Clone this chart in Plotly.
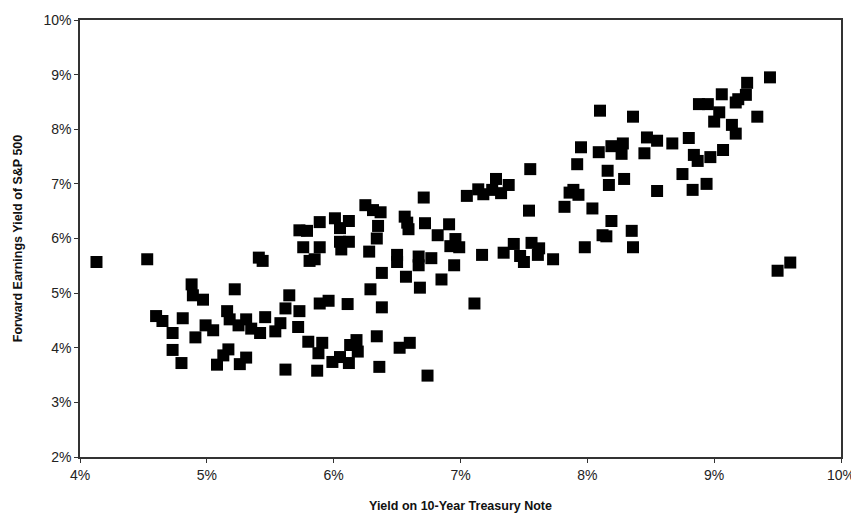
import plotly.graph_objects as go

# Yield on 10-Year Treasury Note (%)
treasury_yield = [
    4.13, 4.53, 5.41, 5.44, 4.88, 4.89, 4.97, 5.22, 4.60, 4.65,
    4.81, 4.73, 4.91, 4.99, 5.05, 5.16, 5.18, 5.25, 5.31, 5.35,
    5.42, 5.46, 5.54, 4.73, 4.80, 5.08, 5.13, 5.17, 5.26, 5.31,
    6.25, 6.31, 6.37, 5.89, 6.01, 6.05, 6.12, 5.73, 5.79, 6.35,
    6.56, 6.58, 6.59, 6.72, 6.91, 6.82, 6.96, 6.92, 6.99, 5.76,
    5.89, 5.81, 5.85, 6.05, 6.06, 6.12, 6.34, 6.28, 6.50, 6.50,
    6.67, 6.67, 6.77, 6.38, 6.57, 6.68, 6.85, 6.95, 6.29, 5.65,
    5.62, 5.73, 5.89, 5.96, 6.11, 6.38, 5.58, 5.72, 5.80, 5.91,
    5.88, 5.99, 6.05, 6.12, 6.13, 6.18, 6.19, 6.34, 6.52, 6.60,
    5.62, 5.87, 6.36, 6.74, 6.71,
    7.55, 7.92, 8.16, 8.29, 8.17, 7.28, 7.38, 7.14, 7.18, 7.05,
    7.25, 7.32, 7.89, 7.93, 7.86, 7.82, 8.04, 7.54, 8.19, 8.35,
    8.12, 8.15, 8.36, 7.98, 7.17, 7.34, 7.42, 7.47, 7.50, 7.56,
    7.62, 7.61, 7.73, 7.11,
    8.10, 7.95, 8.19, 8.28, 8.27, 8.09,
    9.44, 9.26, 9.06, 9.25, 9.19, 9.17, 8.88, 8.95, 9.04, 9.00,
    8.36, 9.34, 9.14, 9.17, 8.47, 8.55, 8.67, 8.80, 8.45, 8.84,
    8.87, 8.97, 9.07, 8.75, 8.55, 8.83, 8.94, 9.60, 9.50,
]

# Forward Earnings Yield of S&P 500 (%)
earnings_yield = [
    5.57, 5.62, 5.65, 5.59, 5.16, 4.96, 4.88, 5.07, 4.58, 4.49,
    4.54, 4.27, 4.19, 4.41, 4.32, 4.67, 4.52, 4.41, 4.52, 4.35,
    4.27, 4.56, 4.30, 3.96, 3.72, 3.69, 3.86, 3.97, 3.70, 3.82,
    6.61, 6.52, 6.48, 6.30, 6.37, 6.19, 6.32, 6.15, 6.14, 6.23,
    6.40, 6.29, 6.17, 6.28, 6.26, 6.06, 5.99, 5.86, 5.84, 5.84,
    5.84, 5.59, 5.62, 5.94, 5.80, 5.94, 6.00, 5.76, 5.70, 5.57,
    5.67, 5.51, 5.64, 5.37, 5.30, 5.10, 5.25, 5.51, 5.07, 4.96,
    4.72, 4.67, 4.81, 4.86, 4.80, 4.74, 4.45, 4.38, 4.11, 4.09,
    3.90, 3.74, 3.83, 3.72, 4.05, 4.14, 3.93, 4.21, 4.00, 4.09,
    3.60, 3.58, 3.65, 3.49, 6.75,
    7.27, 7.36, 7.24, 7.09, 6.98, 7.09, 6.98, 6.90, 6.81, 6.78,
    6.89, 6.83, 6.89, 6.80, 6.84, 6.58, 6.55, 6.51, 6.32, 6.14,
    6.06, 6.04, 5.84, 5.84, 5.70, 5.74, 5.90, 5.68, 5.57, 5.92,
    5.82, 5.70, 5.62, 4.81,
    8.34, 7.67, 7.69, 7.74, 7.55, 7.58,
    8.95, 8.85, 8.64, 8.63, 8.55, 8.49, 8.46, 8.46, 8.31, 8.14,
    8.23, 8.23, 8.08, 7.92, 7.85, 7.79, 7.74, 7.84, 7.56, 7.53,
    7.42, 7.49, 7.62, 7.18, 6.87, 6.89, 7.00, 5.56, 5.41,
]

x_ticks = [4, 5, 6, 7, 8, 9, 10]
y_ticks = [2, 3, 4, 5, 6, 7, 8, 9, 10]
x_tick_labels = [f"{v}%" for v in x_ticks]
y_tick_labels = [f"{v}%" for v in y_ticks]

font_family = "Liberation Sans, Arial, sans-serif"

fig = go.Figure(
    go.Scatter(
        x=treasury_yield,
        y=earnings_yield,
        mode="markers",
        marker=dict(symbol="square", size=12, color="black", line=dict(width=0)),
        hoverinfo="x+y",
    )
)

axis_common = dict(
    showgrid=False,
    zeroline=False,
    showline=True,
    linecolor="#333333",
    linewidth=1.5,
    mirror=True,
    ticks="outside",
    ticklen=4,
    tickwidth=1.2,
    tickcolor="#333333",
    automargin=False,
    tickfont=dict(family=font_family, size=14, color="#222222"),
)

fig.update_xaxes(
    range=[4, 10],
    tickvals=x_ticks,
    ticktext=x_tick_labels,
    title=dict(
        text="<b>Yield on 10-Year Treasury Note</b>",
        font=dict(family=font_family, size=12.5, color="#111111"),
        standoff=20,
    ),
    **axis_common,
)
fig.update_yaxes(
    range=[2, 10],
    tickvals=y_ticks,
    ticktext=y_tick_labels,
    title=dict(
        text="<b>Forward Earnings Yield of S&P 500</b>",
        font=dict(family=font_family, size=12.5, color="#111111"),
        standoff=18,
    ),
    **axis_common,
)

# The page body adds an 8px offset, so the figure is sized to fit the window.
fig.update_layout(
    width=851,
    height=517,
    margin=dict(l=72, r=18, t=12, b=68),
    paper_bgcolor="white",
    plot_bgcolor="white",
    showlegend=False,
)

fig.write_html("out.html")
